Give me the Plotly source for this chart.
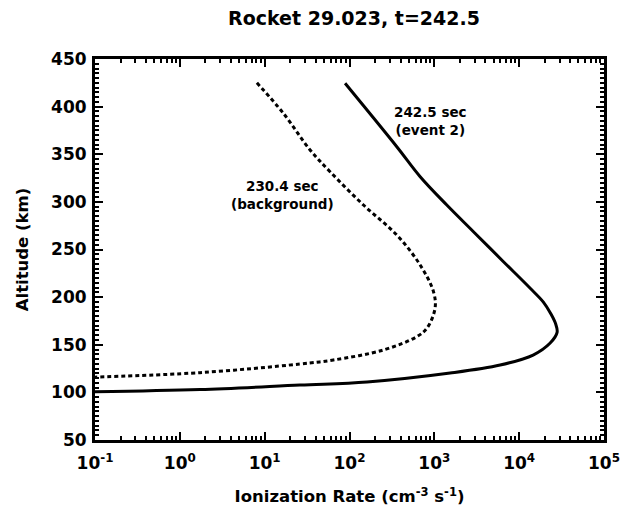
import plotly.graph_objects as go

# 242.5 sec (event 2) profile
event_rate = [88.7, 361, 681, 1403, 2891, 6531, 13490, 19200, 23800, 26900, 28000, 23200, 14600, 5970, 1535, 161, 26, 1.73, 0.1]
event_alt = [424.5, 357.9, 326.4, 296.7, 268.7, 237.2, 209.3, 195, 182, 172, 163, 151.8, 139.2, 128.7, 120.3, 110.9, 107.7, 103, 100.7]

# 230.4 sec (background) profile
bg_rate = [8.1, 16.6, 34.3, 59, 146, 361, 681, 977, 1020, 817, 622, 251, 64.6, 26.1, 1.73, 0.1]
bg_alt = [425, 393, 354.5, 331.7, 296.7, 265.2, 233.7, 205.7, 188.3, 167.3, 158.5, 144.5, 134, 129.8, 120.7, 116]

x_tickvals = [0.1, 1, 10, 100, 1000, 10000, 100000]
x_ticktext = ["10<sup>-1</sup>", "10<sup>0</sup>", "10<sup>1</sup>", "10<sup>2</sup>",
              "10<sup>3</sup>", "10<sup>4</sup>", "10<sup>5</sup>"]
y_tickvals = [50, 100, 150, 200, 250, 300, 350, 400, 450]

FONT = "DejaVu Sans"

fig = go.Figure()
fig.add_trace(go.Scatter(x=bg_rate, y=bg_alt, mode="lines",
                         line=dict(color="black", width=3, dash="4px,3px", shape="spline", smoothing=1.0),
                         showlegend=False))
fig.add_trace(go.Scatter(x=event_rate, y=event_alt, mode="lines",
                         line=dict(color="black", width=3, shape="spline", smoothing=1.0),
                         showlegend=False))

minor_x = [m * 10 ** e for e in range(-1, 5) for m in range(2, 10)]

fig.update_xaxes(type="log", range=[-1, 5], tickmode="array", tickvals=x_tickvals, ticktext=x_ticktext,
                 ticks="inside", ticklen=8, tickwidth=2, tickcolor="black",
                 showline=True, linecolor="black", linewidth=3, mirror="ticks",
                 showgrid=False, zeroline=False,
                 minor=dict(tickvals=minor_x, ticks="inside", ticklen=4, tickwidth=2, tickcolor="black", showgrid=False),
                 tickfont=dict(family=FONT, size=17, color="black", weight="bold"),
                 ticklabelstandoff=6,
                 title=dict(text="Ionization Rate (cm<sup>-3</sup> s<sup>-1</sup>)",
                            font=dict(family=FONT, size=16.5, color="black", weight="bold"), standoff=19))
fig.update_yaxes(range=[50, 450], tickmode="array", tickvals=y_tickvals,
                 ticks="inside", ticklen=8, tickwidth=2, tickcolor="black",
                 showline=True, linecolor="black", linewidth=3, mirror="ticks",
                 showgrid=False, zeroline=False,
                 minor=dict(dtick=5, ticks="inside", ticklen=4, tickwidth=2, tickcolor="black", showgrid=False),
                 tickfont=dict(family=FONT, size=17, color="black", weight="bold"),
                 ticklabelstandoff=2,
                 title=dict(text="Altitude (km)",
                            font=dict(family=FONT, size=16.5, color="black", weight="bold"), standoff=19))

fig.add_annotation(x=2.95, y=385, xref="x", yref="y", text="242.5 sec<br>(event 2)", showarrow=False,
                   font=dict(family=FONT, size=13.5, color="black", weight="bold"))
fig.add_annotation(x=1.205, y=307, xref="x", yref="y", text="230.4 sec<br>(background)", showarrow=False,
                   font=dict(family=FONT, size=13.5, color="black", weight="bold"))

fig.update_layout(width=635, height=517, margin=dict(l=95, r=31, t=59, b=77),
                  paper_bgcolor="white", plot_bgcolor="white",
                  title=dict(text="Rocket 29.023, t=242.5", x=(354 - 95) / (635 - 95 - 31), xref="paper",
                             xanchor="center", y=0.965, yanchor="middle",
                             font=dict(family=FONT, size=19, color="black", weight="bold")))

fig.write_html("out.html")
